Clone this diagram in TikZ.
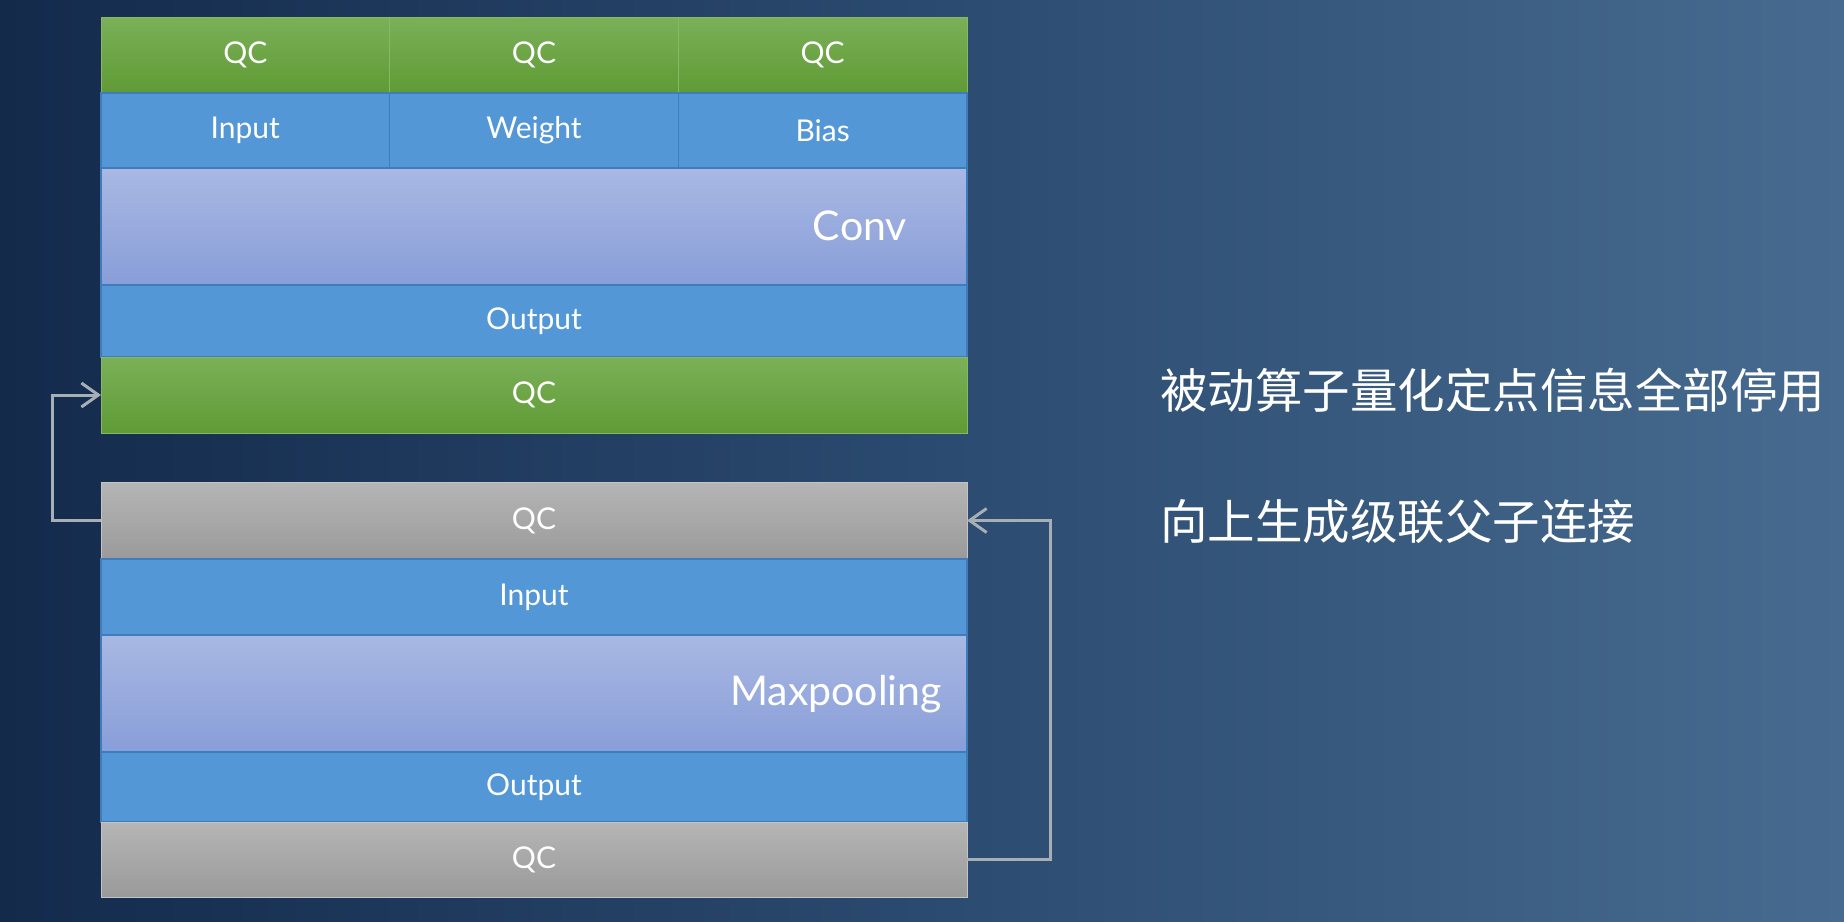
\documentclass[tikz,border=0pt]{standalone}
\usepackage{fontspec}
\setmainfont{Lato}
\newfontfamily\cjk{Noto Sans CJK SC}
\usetikzlibrary{arrows.meta}
\definecolor{bgL}{HTML}{132A4B}
\definecolor{bgM}{HTML}{2B4A6F}
\definecolor{bgR}{HTML}{476B90}
\definecolor{grT}{HTML}{7BB058}
\definecolor{grB}{HTML}{5F9B35}
\definecolor{grD}{HTML}{86B866}
\definecolor{blu}{HTML}{5497D6}
\definecolor{bluD}{HTML}{3F7CBB}
\definecolor{lavT}{HTML}{A9B8E3}
\definecolor{lavB}{HTML}{889ED9}
\definecolor{gyT}{HTML}{B5B5B5}
\definecolor{gyB}{HTML}{9A9A9A}
\definecolor{gyD}{HTML}{C4C4C4}
\definecolor{arr}{HTML}{A8AEB5}
\begin{document}
\begin{tikzpicture}[x=1pt,y=-1pt,
  cell/.style={rectangle, inner sep=0pt, outer sep=0pt, anchor=north west,
    text=white, font=\fontsize{30}{34}\selectfont, minimum width=866pt},
  third/.style={minimum width=288.667pt},
  qcgreen/.style={cell, top color=grT, bottom color=grB, draw=grD, line width=1pt},
  qcgray/.style={cell, top color=gyT, bottom color=gyB, draw=gyD, line width=1pt},
  tensor/.style={cell, fill=blu, draw=bluD, line width=1.5pt},
  opbox/.style={cell, top color=lavT, bottom color=lavB, draw=bluD, line width=1.5pt},
  optext/.style={text=white, font=\fontsize{41}{46}\selectfont, inner sep=0pt, anchor=east},
  note/.style={text=white, font=\cjk\fontsize{47.5}{52}\selectfont, inner sep=0pt, anchor=west},
  link/.style={draw=arr, line width=3pt, -{Straight Barb[length=17pt,width=24pt,line width=3pt]}}
]
\useasboundingbox (0,0) rectangle (1844,921);
\shade[left color=bgL, right color=bgR, middle color=bgM] (0,0) rectangle (1844,921);

% Conv block
\node[qcgreen, third, minimum height=76pt] (qcA) at (101,17) {QC};
\node[qcgreen, third, minimum height=76pt] (qcB) at (389.667,17) {QC};
\node[qcgreen, third, minimum height=76pt] (qcC) at (678.333,17) {QC};
\node[tensor, third, minimum height=75pt] (inC) at (101,93) {Input};
\node[tensor, third, minimum height=75pt] (wC) at (389.667,93) {Weight};
\node[tensor, third, minimum height=75pt] (bC) at (678.333,93) {Bias};
\node[opbox, minimum height=117pt] (conv) at (101,168) {};
\node[optext] (convt) at (907,226) {Conv};
\node[tensor, minimum height=72pt] (outC) at (101,285) {Output};
\node[qcgreen, minimum height=76pt] (qcO) at (101,357) {QC};

% Maxpooling block
\node[qcgray, minimum height=77pt] (gqcI) at (101,482) {QC};
\node[tensor, minimum height=76pt] (inM) at (101,559) {Input};
\node[opbox, minimum height=117pt] (pool) at (101,635) {};
\node[optext] (poolt) at (942,694) {Maxpooling};
\node[tensor, minimum height=70pt] (outM) at (101,752) {Output};
\node[qcgray, minimum height=75pt] (gqcO) at (101,822) {QC};

% connectors
\draw[link] (gqcI.west) -- ++(-49,0) |- (qcO.west);
\draw[link] (gqcO.east) -- ++(83,0) |- (gqcI.east);

% notes
\node[note] (n1) at (1160,390) {被动算子量化定点信息全部停用};
\node[note] (n2) at (1160,522) {向上生成级联父子连接};
\end{tikzpicture}
\end{document}
